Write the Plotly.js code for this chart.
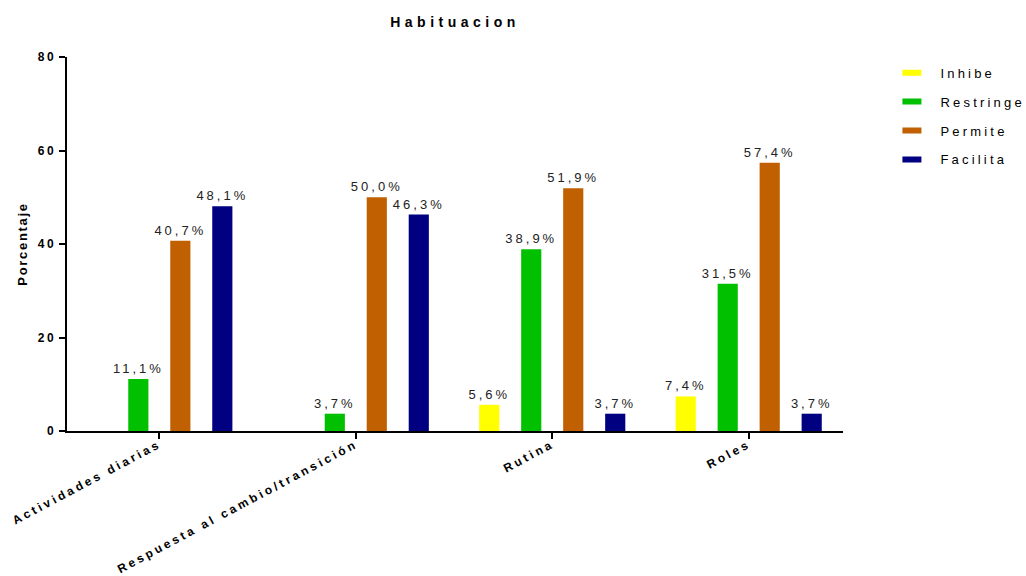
<!DOCTYPE html>
<html>
<head>
<meta charset="utf-8">
<script src="https://cdn.plot.ly/plotly-3.0.1.min.js"></script>
<style>
  body { margin: 0; background: #fff; }
  #chart { width: 1026px; height: 576px; }
  text { letter-spacing: 3.2px; }
  .main-svg .gtitle { letter-spacing: 4.5px; }
  .main-svg .xtick text { letter-spacing: 3px; }
  .main-svg .ytick text { letter-spacing: 2.8px; }
  .main-svg .ytitle { letter-spacing: 1.7px; }
  .main-svg .bartext { letter-spacing: 3px; }
  .main-svg .legendlines path { d: path("M2,0h19"); }
</style>
</head>
<body>
<div id="chart"></div>
<script>
const categories = ["Actividades diarias", "Respuesta al cambio/transición", "Rutina", "Roles"];
const seriesNames = ["Inhibe", "Restringe", "Permite", "Facilita"];
const inhibe    = [null, null, 5.6, 7.4];
const restringe = [11.1, 3.7, 38.9, 31.5];
const permite   = [40.7, 50.0, 51.9, 57.4];
const facilita  = [48.1, 46.3, 3.7, 3.7];
const yTicks = [0, 20, 40, 60, 80];

const seriesValues = [inhibe, restringe, permite, facilita];
const colors = ["#FFFF00", "#00C000", "#C06000", "#000080"];

function fmt(v) { return v == null ? "" : v.toFixed(1).replace(".", ",") + "%"; }

const traces = [];
seriesValues.forEach((vals, i) => {
  traces.push({
    type: "bar",
    name: seriesNames[i],
    x: categories,
    y: vals,
    text: vals.map(fmt),
    textposition: "outside",
    textangle: 0,
    constraintext: "none",
    cliponaxis: false,
    textfont: { family: "Liberation Sans, Arial, sans-serif", size: 13, color: "#222" },
    marker: { color: colors[i], line: { width: 0 } },
    showlegend: false,
    hoverinfo: "skip"
  });
});
seriesValues.forEach((vals, i) => {
  traces.push({
    type: "scatter",
    mode: "lines",
    name: seriesNames[i],
    x: [null],
    y: [null],
    line: { color: colors[i], width: 6 },
    legendgroup: "g" + i,
    showlegend: true,
    hoverinfo: "skip"
  });
});

const layout = {
  width: 1026,
  height: 576,
  margin: { l: 67, r: 183, t: 57, b: 145, autoexpand: false },
  paper_bgcolor: "#fff",
  plot_bgcolor: "#fff",
  font: { family: "Liberation Sans, Arial, sans-serif", color: "#000" },
  title: {
    text: "<b>Habituacion</b>",
    x: 0.4435, xanchor: "center",
    y: 0.962, yanchor: "middle",
    font: { size: 14, color: "#000" }
  },
  barmode: "group",
  bargap: 0.145,
  bargroupgap: 0.52,
  xaxis: {
    range: [-0.47, 3.48],
    automargin: false,
    showline: true, linecolor: "#000", linewidth: 2,
    ticks: "outside", ticklen: 6, tickwidth: 2, tickcolor: "#000",
    tickangle: -28,
    ticklabelstandoff: -6,
    tickfont: { size: 12, color: "#000", family: "Liberation Sans, Arial, sans-serif", weight: "bold" },
    showgrid: false, zeroline: false, fixedrange: true
  },
  yaxis: {
    range: [0, 80],
    automargin: false,
    tickvals: yTicks,
    ticktext: yTicks.map(v => "<b>" + v + "</b>"),
    showline: true, linecolor: "#000", linewidth: 2,
    ticks: "outside", ticklen: 6, tickwidth: 2, tickcolor: "#000",
    tickfont: { size: 12, color: "#000" },
    title: { text: "<b>Porcentaje</b>", font: { size: 13, color: "#000" }, standoff: 6 },
    showgrid: false, zeroline: false, fixedrange: true
  },
  legend: {
    x: 1.074, xanchor: "left",
    y: 0.998, yanchor: "top",
    font: { size: 13, color: "#000" },
    tracegroupgap: 9,
    itemwidth: 30,
    bgcolor: "rgba(0,0,0,0)"
  },
  showlegend: true
};

Plotly.newPlot("chart", traces, layout, { displayModeBar: false, staticPlot: true });
</script>
</body>
</html>
